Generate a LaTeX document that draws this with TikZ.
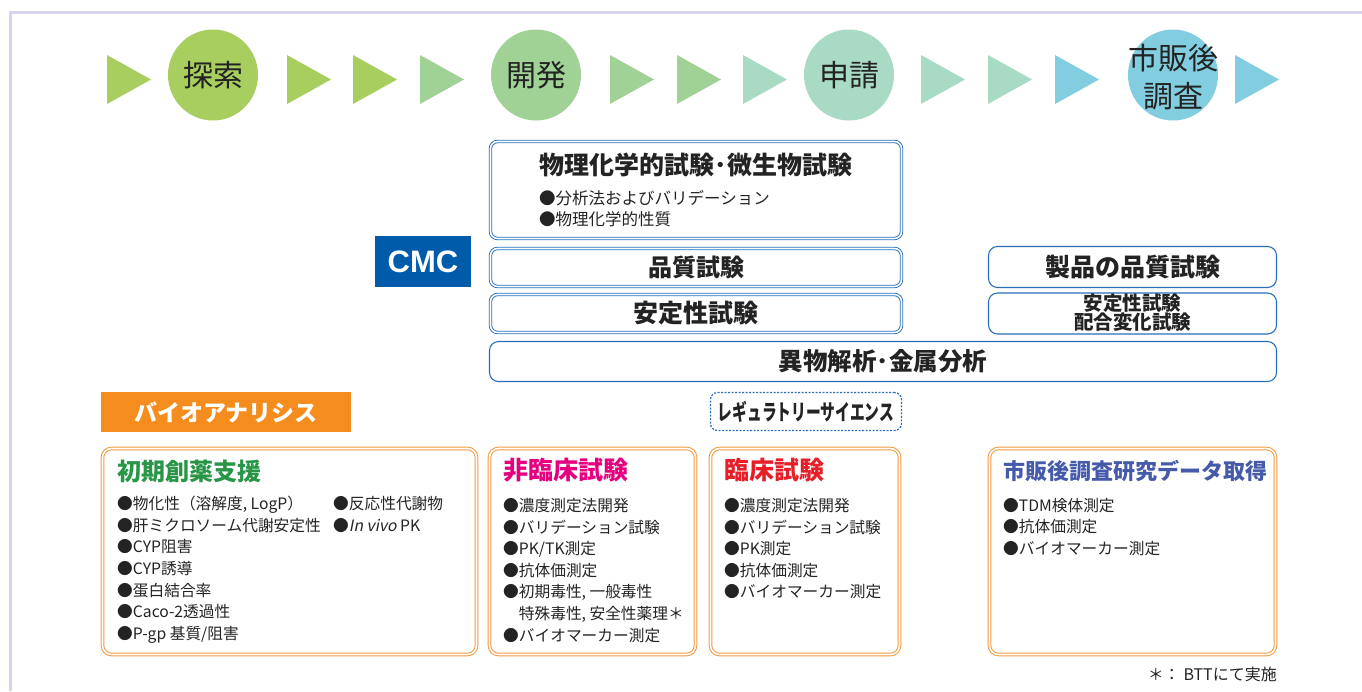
\documentclass[tikz,border=0pt]{standalone}
\usepackage{fontspec}
\setmainfont{Noto Sans CJK JP}
\newfontfamily\arialfont{Liberation Sans}
\newfontfamily\slantfont{Noto Sans CJK JP}[FakeSlant=0.2]
\usetikzlibrary{shapes.geometric}
\definecolor{framec}{RGB}{216,212,236}
\definecolor{gA}{RGB}{168,206,96}
\definecolor{gB}{RGB}{160,210,150}
\definecolor{gC}{RGB}{168,218,196}
\definecolor{gD}{RGB}{130,206,224}
\definecolor{cmcblue}{RGB}{0,92,170}
\definecolor{boxblue}{RGB}{40,110,185}
\definecolor{orng}{RGB}{244,140,30}
\definecolor{obox}{RGB}{242,152,62}
\definecolor{tgreen}{RGB}{40,150,70}
\definecolor{tmag}{RGB}{228,0,127}
\definecolor{tred}{RGB}{230,30,40}
\definecolor{tblue}{RGB}{70,90,170}
\definecolor{txt}{RGB}{35,35,35}
\tikzset{
  stage/.style={ellipse, minimum width=90pt, minimum height=91pt, inner sep=0pt},
  stagetxt/.style={font=\fontsize{30}{38}\selectfont, text=txt, align=center, inner sep=0pt},
  bdbl/.style={draw=boxblue, double=white, double distance=1.6pt, line width=0.9pt, rounded corners=7pt, inner sep=0pt},
  bsgl/.style={draw=boxblue, line width=1.1pt, rounded corners=9pt, inner sep=0pt},
  odbl/.style={draw=obox, double=white, double distance=1.6pt, line width=1.0pt, rounded corners=9pt, inner sep=0pt},
  head/.style={font=\fontsize{24}{28}\selectfont\bfseries, text=txt, inner sep=0pt, align=center},
  bul/.style={font=\fontsize{15.7}{21.6}\selectfont, text=txt, align=left, inner sep=0pt, anchor=north west},
  otitle/.style={font=\fontsize{24}{28}\selectfont\bfseries, inner sep=0pt, anchor=west},
}
\begin{document}
\begin{tikzpicture}[x=1pt,y=-1pt]
\useasboundingbox (0,0) rectangle (1362,691);
% frame
\draw[framec, line width=3pt] (10.5,691) -- (10.5,12) -- (1362,12);
% stage triangles
\foreach \x/\c in {107/gA,287/gA,353/gA,420/gB,610/gB,677/gB,743/gC,921/gC,988/gC,1055/gD,1235/gD}
  \fill[\c] (\x,55) -- (\x+44,79.5) -- (\x,104) -- cycle;
% stage circles
\node[stage, fill=gA] (s1) at (213,75) {};
\node[stagetxt] (s1t) at (s1) {探索};
\node[stage, fill=gB] (s2) at (536,75) {};
\node[stagetxt] (s2t) at (s2) {開発};
\node[stage, fill=gC] (s3) at (849,75) {};
\node[stagetxt] (s3t) at (s3) {申請};
\node[stage, fill=gD] (s4) at (1173,75) {};
\node[stagetxt] (s4t) at (1173,77) {市販後\\調査};
% CMC
\node[fill=cmcblue, minimum width=96pt, minimum height=51pt, inner sep=0pt, text=white,
  font=\arialfont\bfseries\fontsize{31}{31}\selectfont] (cmc) at (423,261.5) {CMC};
% CMC boxes
\node[bdbl, minimum width=411pt, minimum height=97pt] (phys) at (696,190) {};
\node[head, font=\fontsize{25}{28}\selectfont\bfseries] (physh) at (696,165) {物理化学的試験･微生物試験};
\node[bul, font=\fontsize{16.5}{21}\selectfont] (physb) at (539,190) {●分析法およびバリデーション\\●物理化学的性質};
\node[bdbl, minimum width=411pt, minimum height=38pt] (qual) at (696,267.5) {};
\node[head] (qualt) at (qual) {品質試験};
\node[bdbl, minimum width=411pt, minimum height=38pt] (stab) at (696,313.5) {};
\node[head, font=\fontsize{25}{28}\selectfont\bfseries] (stabt) at (stab) {安定性試験};
\node[bsgl, minimum width=787pt, minimum height=40pt] (forn) at (883,361.5) {};
\node[head, font=\fontsize{24.5}{28}\selectfont\bfseries] (fornt) at (forn) {異物解析･金属分析};
\node[bsgl, minimum width=288pt, minimum height=41pt] (prod) at (1132.5,267) {};
\node[head, font=\fontsize{25}{28}\selectfont\bfseries] (prodt) at (prod) {製品の品質試験};
\node[bsgl, minimum width=288pt, minimum height=41pt] (pstab) at (1132.5,313.5) {};
\node[head, font=\fontsize{19.5}{19}\selectfont\bfseries] (pstabt) at (1132.5,313) {安定性試験\\配合変化試験};
% regulatory science
\node[draw=boxblue, dash pattern=on 2pt off 1.5pt, line width=1.2pt, rounded corners=7pt,
  minimum width=191pt, minimum height=38pt, inner sep=0pt] (reg) at (806,411.5) {};
\node[inner sep=0pt, text=txt, font=\fontsize{22}{24}\selectfont\bfseries] (regt) at (reg) {\scalebox{0.67}[1]{レギュラトリーサイエンス}};
% bioanalysis label
\node[fill=orng, minimum width=250pt, minimum height=40pt, inner sep=0pt, text=white,
  font=\fontsize{23}{26}\selectfont\bfseries] (bio) at (226,412) {バイオアナリシス};
% orange boxes
\node[odbl, minimum width=374pt, minimum height=206pt] (ob1) at (289.5,551.5) {};
\node[otitle, text=tgreen] (ob1t) at (117,471) {初期創薬支援};
\node[bul] (ob1a) at (117,496) {●物化性（溶解度, LogP）\\●肝ミクロソーム代謝安定性\\●CYP阻害\\●CYP誘導\\●蛋白結合率\\●Caco-2透過性\\●P-gp 基質/阻害};
\node[bul] (ob1b) at (333,496) {●反応性代謝物\\●{\slantfont In vivo} PK};
\node[odbl, minimum width=206pt, minimum height=206pt] (ob2) at (592.5,551.5) {};
\node[otitle, text=tmag, font=\fontsize{25}{28}\selectfont\bfseries] (ob2t) at (503,470) {非臨床試験};
\node[bul] (ob2a) at (503,498) {●濃度測定法開発\\●バリデーション試験\\●PK/TK測定\\●抗体価測定\\●初期毒性, 一般毒性\\\hphantom{●}特殊毒性, 安全性薬理＊\\●バイオマーカー測定};
\node[odbl, minimum width=189pt, minimum height=206pt] (ob3) at (805,551.5) {};
\node[otitle, text=tred, font=\fontsize{25}{28}\selectfont\bfseries] (ob3t) at (724,470) {臨床試験};
\node[bul] (ob3a) at (724,498) {●濃度測定法開発\\●バリデーション試験\\●PK測定\\●抗体価測定\\●バイオマーカー測定};
\node[odbl, minimum width=286pt, minimum height=206pt] (ob4) at (1132.5,551.5) {};
\node[otitle, text=tblue, font=\fontsize{22}{26}\selectfont\bfseries] (ob4t) at (1003,471) {市販後調査研究データ取得};
\node[bul] (ob4a) at (1003,498) {●TDM検体測定\\●抗体価測定\\●バイオマーカー測定};
% footnote
\node[inner sep=0pt, anchor=east, text=txt, font=\fontsize{16}{18}\selectfont] (foot) at (1277,674) {＊： BTTにて実施};
\end{tikzpicture}
\end{document}
